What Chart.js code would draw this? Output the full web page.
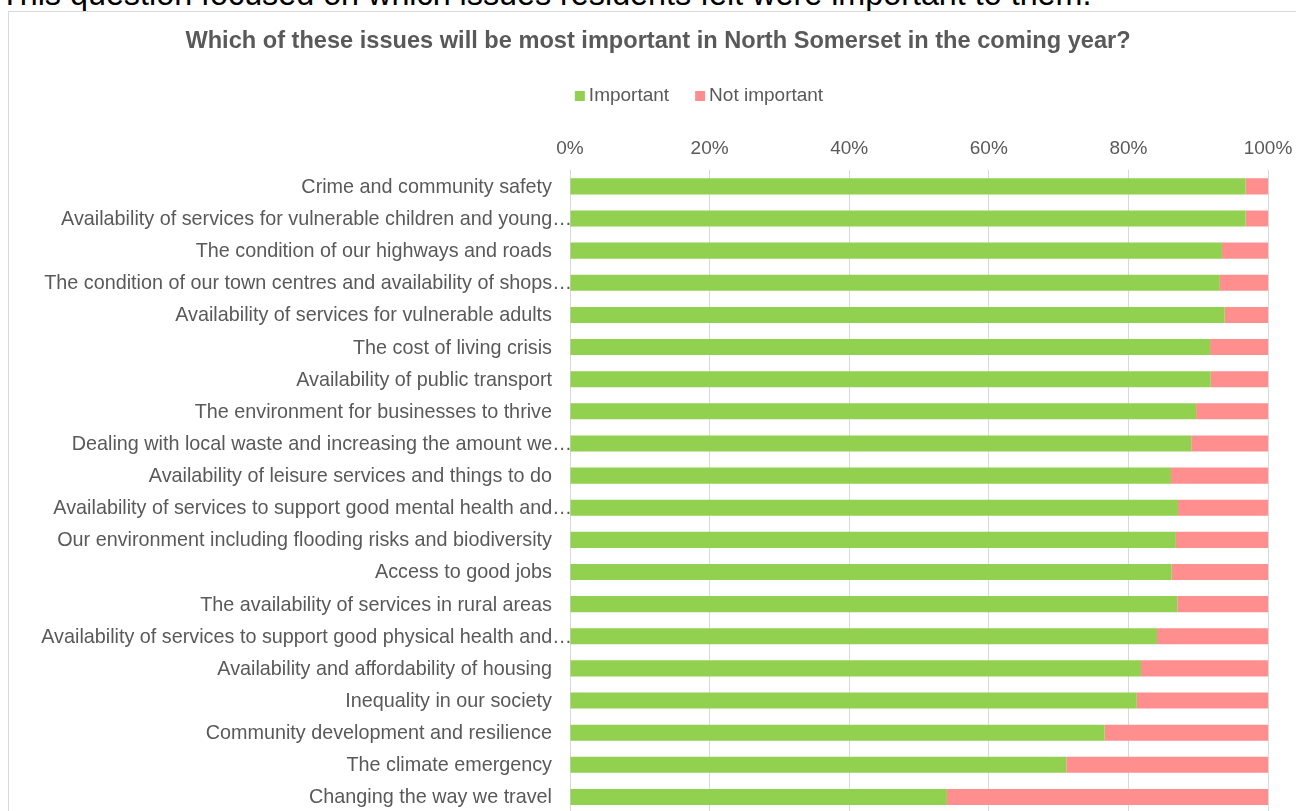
<!DOCTYPE html>
<html>
<head>
<meta charset="utf-8">
<script src="https://cdn.jsdelivr.net/npm/chart.js@4.4.1/dist/chart.umd.min.js"></script>
<style>
  html, body { margin: 0; padding: 0; background: #fff; overflow: hidden; width: 1296px; height: 811px; }
  #intro { position: absolute; left: 0; top: -24px; font: 32.3px 'Liberation Sans', Arial, sans-serif; line-height: 36px; color: #000; white-space: nowrap; }
  #box { position: absolute; left: 8px; top: 11px; width: 1298px; height: 830px; border: 1px solid #d9d9d9; }
</style>
</head>
<body>
<div id="intro">This question focused on which issues residents felt were important to them.</div>
<div id="box"><canvas id="chart" width="1298" height="830"></canvas></div>
<script>
const categories = [
  'Crime and community safety',
  'Availability of services for vulnerable children and young…',
  'The condition of our highways and roads',
  'The condition of our town centres and availability of shops…',
  'Availability of services for vulnerable adults',
  'The cost of living crisis',
  'Availability of public transport',
  'The environment for businesses to thrive',
  'Dealing with local waste and increasing the amount we…',
  'Availability of leisure services and things to do',
  'Availability of services to support good mental health and…',
  'Our environment including flooding risks and biodiversity',
  'Access to good jobs',
  'The availability of services in rural areas',
  'Availability of services to support good physical health and…',
  'Availability and affordability of housing',
  'Inequality in our society',
  'Community development and resilience',
  'The climate emergency',
  'Changing the way we travel'
];
const important = [96.8, 96.8, 93.4, 93.1, 93.8, 91.7, 91.8, 89.7, 89.0, 86.1, 87.1, 86.8, 86.2, 87.0, 84.1, 81.8, 81.2, 76.6, 71.1, 54.0];
const notImportant = [3.2, 3.2, 6.6, 6.9, 6.2, 8.3, 8.2, 10.3, 11.0, 13.9, 12.9, 13.2, 13.8, 13.0, 15.9, 18.2, 18.8, 23.4, 28.9, 46.0];
const tickValues = [0, 20, 40, 60, 80, 100];

const textColor = '#595959';
const font = "'Liberation Sans', Arial, sans-serif";

// category labels: Excel lets the truncated ones run up to the axis
const yLabels = {
  id: 'yLabels',
  afterDraw(chart) {
    const { ctx, chartArea, scales } = chart;
    ctx.save();
    ctx.font = `19.8px ${font}`;
    ctx.fillStyle = textColor;
    ctx.textAlign = 'right';
    ctx.textBaseline = 'middle';
    categories.forEach((c, i) => {
      const y = scales.y.getPixelForValue(i) + 1;
      const x = c.endsWith('…') ? chartArea.left + 2 : chartArea.left - 18;
      ctx.fillText(c, x, y);
    });
    ctx.restore();
  }
};

// legend, offset to the right like the original
const legendRow = {
  id: 'legendRow',
  afterDraw(chart) {
    const { ctx } = chart;
    const items = chart.data.datasets.map((d) => ({ label: d.label, color: d.backgroundColor }));
    ctx.save();
    ctx.font = `19px ${font}`;
    ctx.textBaseline = 'middle';
    const sq = 10, gap = 4, between = 26;
    const widths = items.map((it) => sq + gap + ctx.measureText(it.label).width);
    const total = widths.reduce((a, b) => a + b, 0) + between * (items.length - 1);
    let x = 690 - total / 2;
    const y = 84;
    items.forEach((it, i) => {
      ctx.fillStyle = it.color;
      ctx.fillRect(x, y - sq / 2, sq, sq);
      ctx.fillStyle = textColor;
      ctx.fillText(it.label, x + sq + gap, y);
      x += widths[i] + between;
    });
    ctx.restore();
  }
};

new Chart(document.getElementById('chart').getContext('2d'), {
  type: 'bar',
  data: {
    labels: categories,
    datasets: [
      { label: 'Important', data: important, backgroundColor: '#92d050', barPercentage: 0.5, categoryPercentage: 1 },
      { label: 'Not important', data: notImportant, backgroundColor: '#ff8f8f', barPercentage: 0.5, categoryPercentage: 1 }
    ]
  },
  options: {
    indexAxis: 'y',
    responsive: false,
    animation: false,
    layout: { padding: { left: 39, right: 39, top: 0, bottom: 29 } },
    plugins: {
      legend: { display: false },
      tooltip: { enabled: false },
      title: {
        display: true,
        text: 'Which of these issues will be most important in North Somerset in the coming year?',
        color: textColor,
        font: { family: font, size: 23.6, weight: 'bold' },
        padding: { top: 15, bottom: 0 }
      }
    },
    scales: {
      x: {
        position: 'top',
        stacked: true,
        min: 0,
        max: 100,
        afterBuildTicks: (s) => { s.ticks = tickValues.map((v) => ({ value: v })); },
        afterFit: (s) => { s.height = 115; },
        ticks: {
          color: textColor,
          font: { family: font, size: 19 },
          padding: 10,
          callback: (v) => v + '%'
        },
        grid: { color: '#d9d9d9', drawTicks: false },
        border: { display: false }
      },
      y: {
        stacked: true,
        afterFit: (s) => { s.width = 522; },
        ticks: { display: false },
        grid: { display: false },
        border: { display: false }
      }
    }
  },
  plugins: [yLabels, legendRow]
});
</script>
</body>
</html>
